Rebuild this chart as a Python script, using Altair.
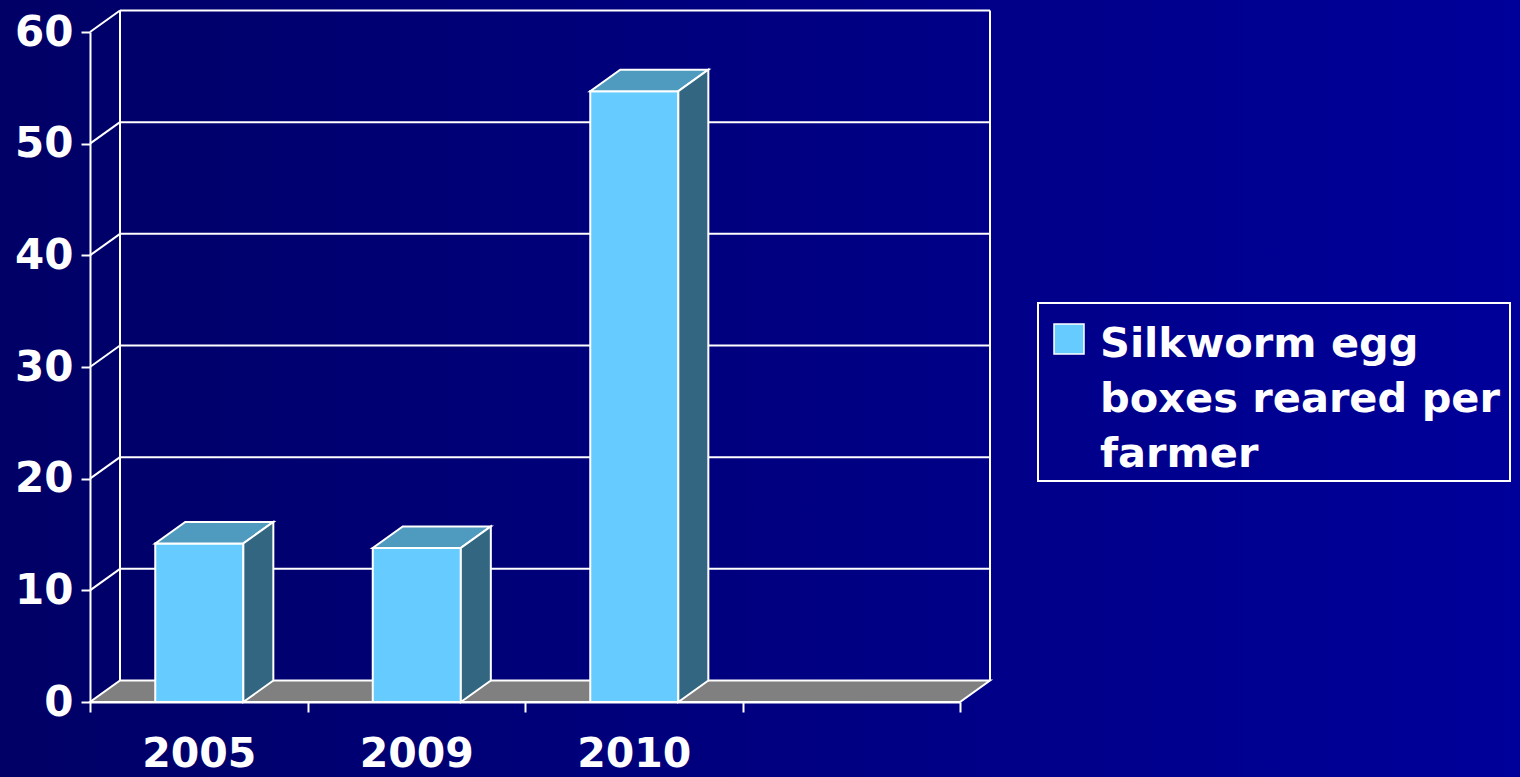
import json
import altair as alt
import pandas as pd

# ---- data ----
years = ["2005", "2009", "2010"]
values = [14.2, 13.8, 54.7]
series_name = "Silkworm egg boxes reared per farmer"
legend_lines = ["Silkworm egg", "boxes reared per", "farmer"]
n_slots = 4                      # category slots on the axis (4th is empty)
y_ticks = [0, 10, 20, 30, 40, 50, 60]

# ---- geometry / style ----
W, H = 870, 670
PAD_L, PAD_T = 90, 32
X_DOM = [0, n_slots]
Y_DOM = [0, 60]
px_x = W / (X_DOM[1] - X_DOM[0])
px_y = H / (Y_DOM[1] - Y_DOM[0])
DX = 30 / px_x                  # 3-D depth in data units
DY = 21.5 / px_y
BAR_L, BAR_R = 0.30, 0.705      # front face position inside a slot

FRONT = "#66CCFF"
TOP = "#4F9BBF"
SIDE = "#336680"
FLOOR = "#808080"
WHITE = "#FFFFFF"
FONT = "DejaVu Sans"

xs = alt.Scale(domain=X_DOM, nice=False, zero=False)
ys = alt.Scale(domain=Y_DOM, nice=False, zero=False)

label_expr = json.dumps(years) + "[datum.value] || ''"
AX_X = alt.Axis(
    values=list(range(n_slots + 1)), title=None, grid=False,
    domainColor=WHITE, domainWidth=2, tickColor=WHITE, tickWidth=2,
    tickSize=10, labelExpr=label_expr, labelOffset=px_x / 2,
    labelFont=FONT, labelFontWeight="bold", labelFontSize=41,
    labelColor=WHITE, labelPadding=22, labelOverlap=False,
    labelFlush=False, labelBound=False, zindex=1)
AX_Y = alt.Axis(
    values=y_ticks, title=None, grid=False,
    domainColor=WHITE, domainWidth=2, tickColor=WHITE, tickWidth=2,
    tickSize=9, labelFont=FONT, labelFontWeight="bold", labelFontSize=42,
    labelColor=WHITE, labelPadding=8, labelOverlap=False,
    labelFlush=False, labelBound=False, zindex=1)


def X(field):
    return alt.X(field, scale=xs, axis=AX_X)


def Y(field):
    return alt.Y(field, scale=ys, axis=AX_Y, stack=None)


# ---- derived tables ----
bars = pd.DataFrame({
    "year": years,
    "value": values,
    "x0": [i + BAR_L for i in range(len(years))],
    "x1": [i + BAR_R for i in range(len(years))],
})

top_rows, side_rows = [], []
for i, (yr, v) in enumerate(zip(years, values)):
    x0, x1 = i + BAR_L, i + BAR_R
    top_rows += [
        {"id": yr, "x": x0, "y": v, "y2": v},
        {"id": yr, "x": x0 + DX, "y": v, "y2": v + DY},
        {"id": yr, "x": x1, "y": v, "y2": v + DY},
        {"id": yr, "x": x1 + DX, "y": v + DY, "y2": v + DY},
    ]
    side_rows += [
        {"id": yr, "x": x1, "y": 0, "y2": v},
        {"id": yr, "x": x1 + DX, "y": DY, "y2": v + DY},
    ]
tops = pd.DataFrame(top_rows)
sides = pd.DataFrame(side_rows)

floor = pd.DataFrame([
    {"x": 0, "y": 0, "y2": 0},
    {"x": DX, "y": 0, "y2": DY},
    {"x": X_DOM[1], "y": 0, "y2": DY},
    {"x": X_DOM[1] + DX, "y": DY, "y2": DY},
])

grid_back = pd.DataFrame({"x": [DX] * 6, "x2": [X_DOM[1] + DX] * 6,
                          "y": [t + DY for t in y_ticks[1:]]})
diag_rows = []
for t in y_ticks[1:]:
    diag_rows += [{"t": t, "x": 0, "y": t}, {"t": t, "x": DX, "y": t + DY}]
diag = pd.DataFrame(diag_rows)
walls = pd.DataFrame({"x": [DX, X_DOM[1] + DX], "y": [DY, DY], "y2": [Y_DOM[1] + DY] * 2})

one = pd.DataFrame({"a": [0]})

# ---- layers ----
bg = alt.Chart(one).mark_rect(
    fill=alt.LinearGradient(
        gradient="linear",
        stops=[alt.GradientStop(color="#000066", offset=0),
               alt.GradientStop(color="#00009A", offset=1)],
        x1=0, x2=1, y1=0, y2=0),
).encode(x=alt.value(-PAD_L), x2=alt.value(1520 - PAD_L),
         y=alt.value(-PAD_T), y2=alt.value(777 - PAD_T))

grid_layer = alt.Chart(grid_back).mark_rule(color=WHITE, strokeWidth=2).encode(
    x=X("x:Q"), x2="x2:Q", y=Y("y:Q"))

diag_layer = alt.Chart(diag).mark_line(color=WHITE, strokeWidth=2).encode(
    x=X("x:Q"), y=Y("y:Q"), detail="t:N")

wall_layer = alt.Chart(walls).mark_rule(color=WHITE, strokeWidth=2).encode(
    x=X("x:Q"), y=Y("y:Q"), y2="y2:Q")

floor_layer = alt.Chart(floor).mark_area(
    fill=FLOOR, stroke=WHITE, strokeWidth=2, opacity=1).encode(
    x=X("x:Q"), y=Y("y:Q"), y2="y2:Q")

front_layer = alt.Chart(bars).mark_rect(
    fill=FRONT, stroke=WHITE, strokeWidth=2).encode(
    x=X("x0:Q"), x2="x1:Q",
    y=Y("value:Q"), y2=alt.Y2(datum=0),
    tooltip=["year:N", "value:Q"])

top_layer = alt.Chart(tops).mark_area(
    fill=TOP, stroke=WHITE, strokeWidth=2, opacity=1).encode(
    x=X("x:Q"), y=Y("y:Q"), y2="y2:Q", detail="id:N")

side_layer = alt.Chart(sides).mark_area(
    fill=SIDE, stroke=WHITE, strokeWidth=2, opacity=1).encode(
    x=X("x:Q"), y=Y("y:Q"), y2="y2:Q", detail="id:N")

# ---- legend (drawn by hand so the label can wrap) ----
leg_box = alt.Chart(one).mark_rect(
    fill="transparent", stroke=WHITE, strokeWidth=2).encode(
    x=alt.value(1038 - PAD_L), x2=alt.value(1510 - PAD_L),
    y=alt.value(303 - PAD_T), y2=alt.value(481 - PAD_T))

leg_swatch = alt.Chart(one).mark_rect(
    fill=FRONT, stroke=WHITE, strokeWidth=1.5).encode(
    x=alt.value(1054 - PAD_L), x2=alt.value(1084 - PAD_L),
    y=alt.value(324 - PAD_T), y2=alt.value(354 - PAD_T))

leg_text = alt.Chart(pd.DataFrame({"label": ["\n".join(legend_lines)],
                                   "series": [series_name]})).mark_text(
    align="left", baseline="alphabetic", font=FONT, fontWeight="bold",
    fontSize=41.5, color=WHITE, lineBreak="\n", lineHeight=55).encode(
    x=alt.value(1100 - PAD_L), y=alt.value(357 - PAD_T), text="label:N")

chart = alt.layer(
    bg, grid_layer, diag_layer, wall_layer, floor_layer,
    front_layer, top_layer, side_layer,
    leg_box, leg_swatch, leg_text,
).properties(
    width=W, height=H,
    autosize=alt.AutoSizeParams(type="none"),
    padding={"left": PAD_L, "top": PAD_T, "right": 1520 - PAD_L - W,
             "bottom": 777 - PAD_T - H},
    background="#000080",
).configure_view(stroke=None)

chart.save("out.html", embed_options={"renderer": "svg", "actions": False})
